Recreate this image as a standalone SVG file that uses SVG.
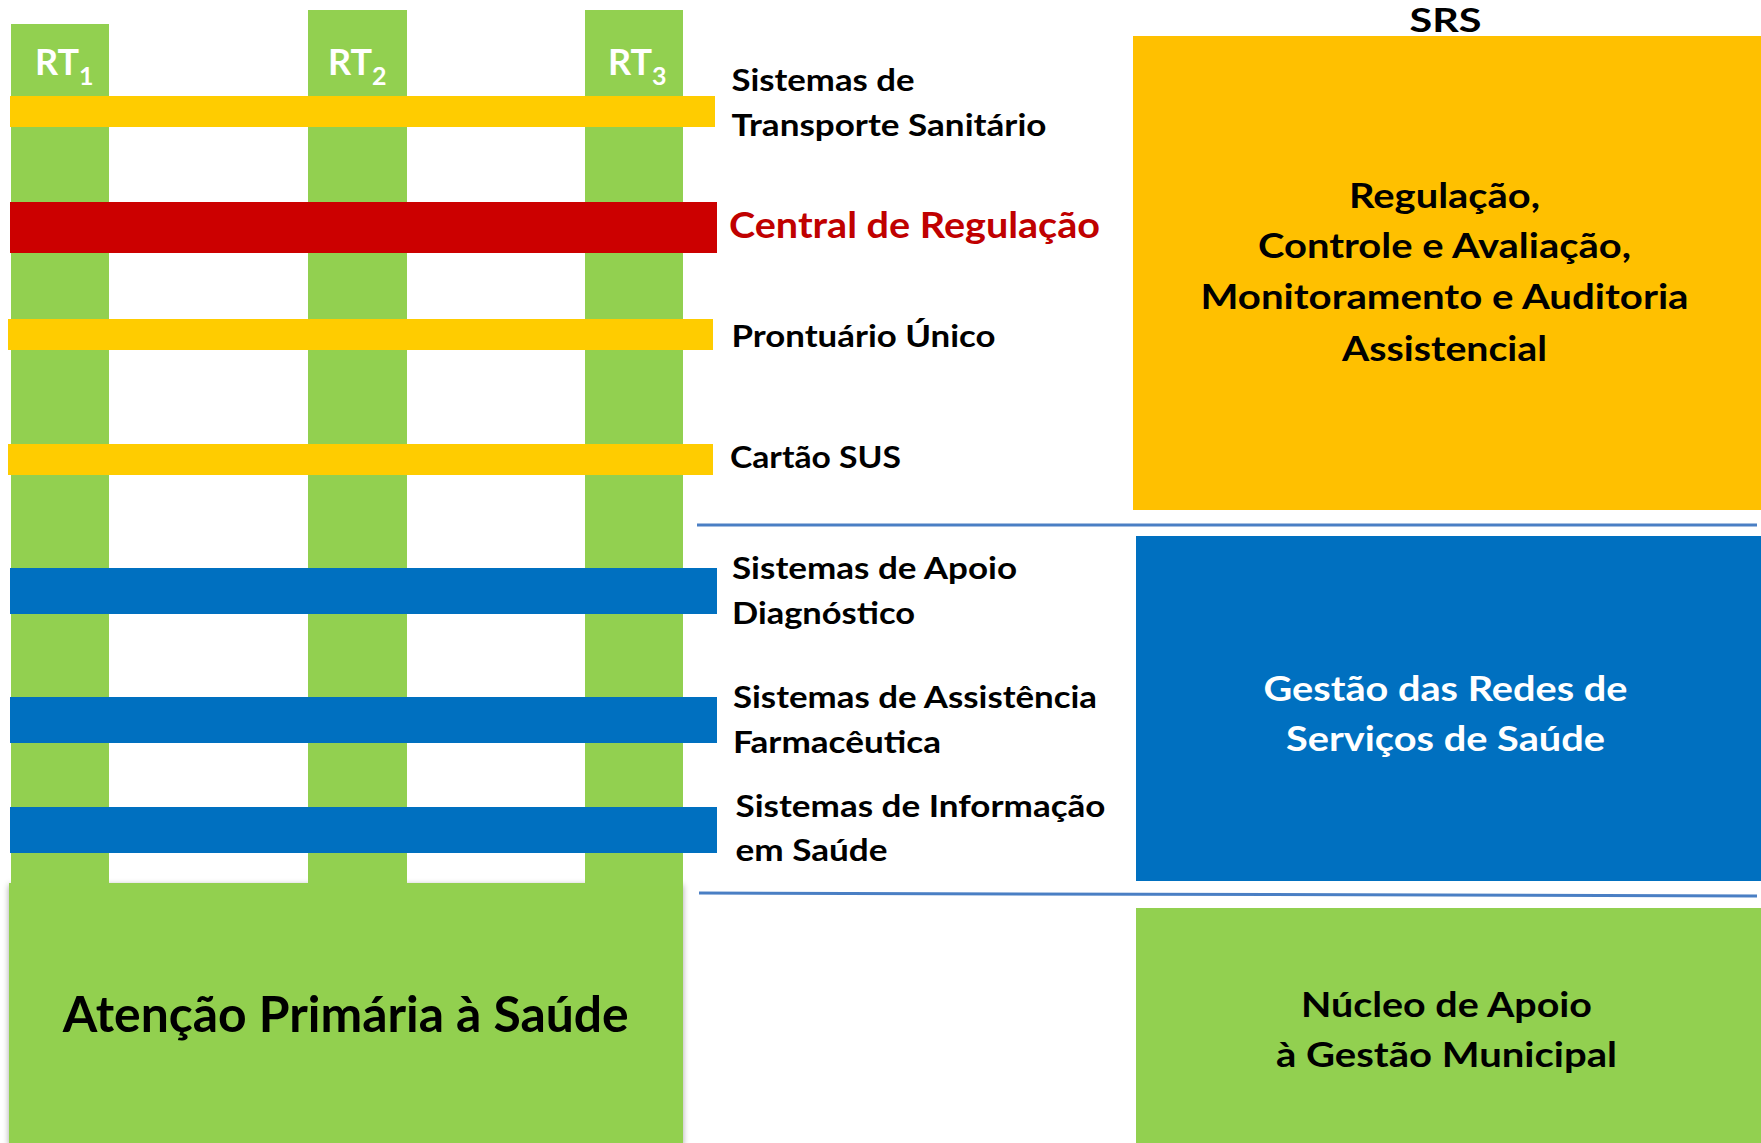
<svg xmlns="http://www.w3.org/2000/svg" width="1761" height="1143" viewBox="0 0 1761 1143">
<style>
.t{font-family:Lato,"Open Sans","Liberation Sans",sans-serif;font-weight:bold;fill:#000}
.lab{font-size:31px}
.box{font-size:35px}
.w{fill:#fff}
.col{fill:#92D050}
.yb{fill:#FFCC00}
.bb{fill:#0070C0}
.sep{stroke:#4A7FC4;stroke-width:3;fill:none}
</style>
<defs>
<filter id="sh" x="-5%" y="-5%" width="110%" height="115%">
<feDropShadow dx="0" dy="2" stdDeviation="3" flood-color="#000" flood-opacity="0.35"/>
</filter>
</defs>
<rect width="1761" height="1143" fill="#fff"/>

<g id="aps">
<rect x="9" y="883" width="674" height="262" class="col" filter="url(#sh)"/>
<text class="t" x="345.7" y="1032" font-size="49" text-anchor="middle" textLength="566" lengthAdjust="spacingAndGlyphs">Atenção Primária à Saúde</text>
</g>

<g id="rt1">
<rect x="11" y="24" width="98" height="862" class="col"/>
<text class="t w" x="35" y="75" font-size="36">RT<tspan font-size="25" dy="10">1</tspan></text>
</g>
<g id="rt2">
<rect x="308" y="10" width="99" height="876" class="col"/>
<text class="t w" x="328" y="75" font-size="36">RT<tspan font-size="25" dy="10">2</tspan></text>
</g>
<g id="rt3">
<rect x="585" y="10" width="98" height="876" class="col"/>
<text class="t w" x="608" y="75" font-size="36">RT<tspan font-size="25" dy="10">3</tspan></text>
</g>

<g id="transporte">
<rect x="10" y="96" width="705" height="31" class="yb"/>
<text class="t lab" x="731.5" y="91" textLength="183" lengthAdjust="spacingAndGlyphs">Sistemas de</text>
<text class="t lab" x="731.5" y="136" textLength="315" lengthAdjust="spacingAndGlyphs">Transporte Sanitário</text>
</g>

<g id="central">
<rect x="10" y="202" width="707" height="51" fill="#CC0000"/>
<text class="t" x="729" y="237.5" font-size="36" style="fill:#C00000" textLength="371" lengthAdjust="spacingAndGlyphs">Central de Regulação</text>
</g>

<g id="prontuario">
<rect x="8" y="319" width="705" height="31" class="yb"/>
<text class="t lab" x="731.5" y="347" textLength="264" lengthAdjust="spacingAndGlyphs">Prontuário Único</text>
</g>

<g id="cartao">
<rect x="8" y="444" width="705" height="31" class="yb"/>
<text class="t lab" x="730" y="468" textLength="171" lengthAdjust="spacingAndGlyphs">Cartão SUS</text>
</g>

<g id="apoio">
<rect x="10" y="568" width="707" height="46" class="bb"/>
<text class="t lab" x="732" y="579" textLength="285" lengthAdjust="spacingAndGlyphs">Sistemas de Apoio</text>
<text class="t lab" x="732" y="624" textLength="183" lengthAdjust="spacingAndGlyphs">Diagnóstico</text>
</g>

<g id="farmaceutica">
<rect x="10" y="697" width="707" height="46" class="bb"/>
<text class="t lab" x="733" y="708" textLength="364" lengthAdjust="spacingAndGlyphs">Sistemas de Assistência</text>
<text class="t lab" x="733" y="752.5" textLength="208" lengthAdjust="spacingAndGlyphs">Farmacêutica</text>
</g>

<g id="informacao">
<rect x="10" y="807" width="707" height="46" class="bb"/>
<text class="t lab" x="735.5" y="817" textLength="370" lengthAdjust="spacingAndGlyphs">Sistemas de Informação</text>
<text class="t lab" x="735.5" y="861" textLength="152" lengthAdjust="spacingAndGlyphs">em Saúde</text>
</g>

<g id="srs">
<text class="t" x="1445.5" y="32" font-size="32" text-anchor="middle" textLength="72" lengthAdjust="spacingAndGlyphs">SRS</text>
</g>

<g id="regulacao">
<rect x="1133" y="36" width="628" height="474" fill="#FFC000"/>
<text class="t box" x="1444.5" y="208" text-anchor="middle" textLength="191" lengthAdjust="spacingAndGlyphs">Regulação,</text>
<text class="t box" x="1444.5" y="258" text-anchor="middle" textLength="373" lengthAdjust="spacingAndGlyphs">Controle e Avaliação,</text>
<text class="t box" x="1444.5" y="309" text-anchor="middle" textLength="488" lengthAdjust="spacingAndGlyphs">Monitoramento e Auditoria</text>
<text class="t box" x="1444.5" y="361" text-anchor="middle" textLength="205" lengthAdjust="spacingAndGlyphs">Assistencial</text>
</g>

<g id="gestao-redes">
<rect x="1136" y="536" width="625" height="345" class="bb"/>
<text class="t box w" x="1445.5" y="701" font-size="36" text-anchor="middle" textLength="364" lengthAdjust="spacingAndGlyphs">Gestão das Redes de</text>
<text class="t box w" x="1445.5" y="750.5" font-size="36" text-anchor="middle" textLength="319" lengthAdjust="spacingAndGlyphs">Serviços de Saúde</text>
</g>

<g id="nucleo">
<rect x="1136" y="908" width="625" height="235" class="col"/>
<text class="t box" x="1446.5" y="1016.5" text-anchor="middle" textLength="291" lengthAdjust="spacingAndGlyphs">Núcleo de Apoio</text>
<text class="t box" x="1446.5" y="1066.5" text-anchor="middle" textLength="341" lengthAdjust="spacingAndGlyphs">à Gestão Municipal</text>
</g>

<g id="connectors">
<line class="sep" x1="697" y1="525" x2="1757" y2="525"/>
<line class="sep" x1="699" y1="893" x2="1757" y2="896"/>
</g>
</svg>
